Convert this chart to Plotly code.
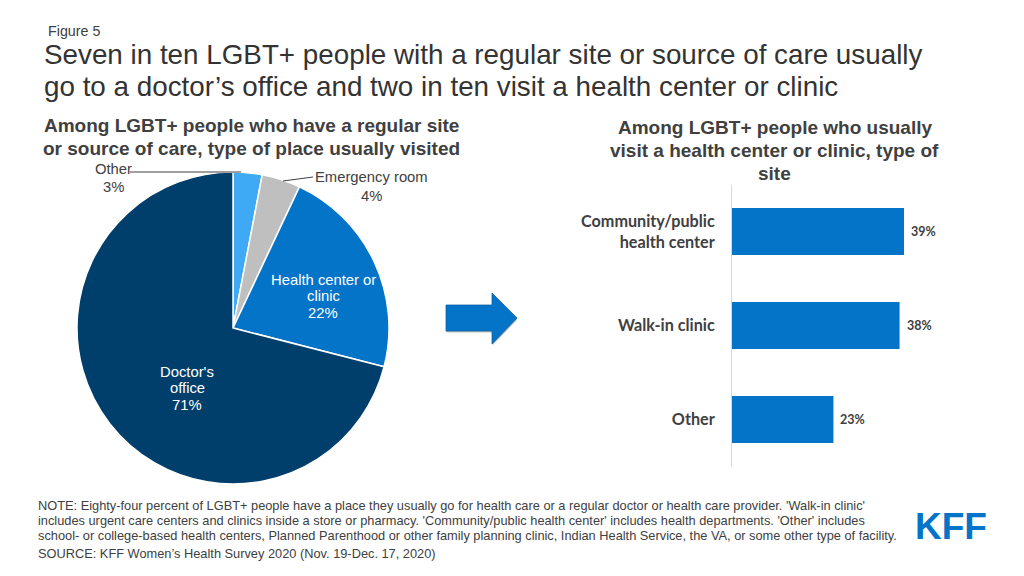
import plotly.graph_objects as go

# page has an 8px body margin, so the figure sits at (8, 8) in the 1024x576 window
W, H = 1008, 560
OFFSET = 8

# --- Data ---
PIE_LABELS = ["Other", "Emergency room", "Health center or clinic", "Doctor's office"]
PIE_VALUES = [3, 4, 22, 71]
PIE_COLORS = ["#3fa9f5", "#bfbfbf", "#0474c8", "#003f6b"]

SITE_LABELS = ["Community/public<br>health center", "Walk-in clinic", "Other"]
SITE_VALUES = [39, 38, 23]
SITE_TEXT = ["39%", "38%", "23%"]

TITLE_LINES = ["Seven in ten LGBT+ people with a regular site or source of care usually",
               "go to a doctor’s office and two in ten visit a health center or clinic"]
LEFT_HEAD = ["Among LGBT+ people who have a regular site",
             "or source of care, type of place usually visited"]
RIGHT_HEAD = ["Among LGBT+ people who usually",
              "visit a health center or clinic, type of",
              "site"]
NOTE_LINES = ["NOTE: Eighty-four percent of LGBT+ people have a place they usually go for health care or a regular doctor or health care provider. 'Walk-in clinic'",
              "includes urgent care centers and clinics inside a store or pharmacy. 'Community/public health center' includes health departments. 'Other' includes",
              "school- or college-based health centers, Planned Parenthood or other family planning clinic, Indian Health Service, the VA, or some other type of facility.",
              "SOURCE: KFF Women’s Health Survey 2020 (Nov. 19-Dec. 17, 2020)"]

SANS = "Liberation Sans"
DARK = "#404040"
BLUE = "#0474c8"


def px(x):
    return (x - OFFSET) / W


def py(y):
    return 1 - (y - OFFSET) / H


def label(x, y, text, size, color=DARK, bold=False, xanchor="center", family=SANS):
    if bold:
        text = f"<b>{text}</b>"
    return dict(x=px(x), y=py(y), xref="paper", yref="paper", text=text, showarrow=False,
                xanchor=xanchor, yanchor="middle", align="center",
                font=dict(family=family, size=size, color=color))


def block(x, ys, lines, size, **kw):
    return [label(x, y, t, size, **kw) for y, t in zip(ys, lines)]


def arrow_path(dx=0, dy=0):
    pts = [(446, 305), (492, 305), (492, 293), (517, 318), (492, 344), (492, 331), (446, 331)]
    return "M " + " L ".join(f"{px(x + dx)} {py(y + dy)}" for x, y in pts) + " Z"


fig = go.Figure()

fig.add_trace(go.Pie(
    labels=PIE_LABELS, values=PIE_VALUES, sort=False, direction="clockwise", rotation=0,
    marker=dict(colors=PIE_COLORS, line=dict(color="white", width=1.5)),
    textinfo="none", hoverinfo="label+percent", showlegend=False,
    domain=dict(x=[px(77), px(389)], y=[py(484), py(172)]),
))

fig.add_trace(go.Bar(
    x=SITE_VALUES, y=SITE_LABELS, orientation="h", width=0.5,
    marker=dict(color=BLUE, line=dict(width=0)), showlegend=False,
))

fig.update_xaxes(domain=[px(732), px(952)], range=[0, 220 / 4.41], visible=False)
fig.update_yaxes(
    domain=[py(466.5), py(184.5)], range=[2.5, -0.5], categoryorder="array", categoryarray=SITE_LABELS,
    showgrid=False, zeroline=False, showline=True, linecolor="#d9d9d9", linewidth=1, ticks="",
    ticklabelstandoff=13, tickfont=dict(family="Lato", size=16.2, color=DARK, weight="bold"),
)

annotations = [label(46, 31, "Figure 5", 14.3, xanchor="left")]
annotations += block(42, [54, 87], TITLE_LINES, 27.8, color="#333333", xanchor="left")
annotations += block(251.5, [125, 148], LEFT_HEAD, 19, bold=True)
annotations += block(774.5, [127, 150, 173], RIGHT_HEAD, 19, bold=True)
annotations += block(113, [169, 187], ["Other", "3%"], 14.8)
annotations += block(371, [177, 196], ["Emergency room", "4%"], 14.8)
annotations += block(323, [280, 296, 313], ["Health center or", "clinic", "22%"], 14.8, color="white")
annotations += block(187, [372, 388, 405], ["Doctor's", "office", "71%"], 14.8, color="white")
annotations += block(36, [505, 520, 535, 553], NOTE_LINES, 12.8, xanchor="left")
annotations.append(label(950.5, 526, "<b>KFF</b>", 37, color=BLUE))
for cat, val, txt in zip(SITE_LABELS, SITE_VALUES, SITE_TEXT):
    annotations.append(dict(x=val, y=cat, xref="x", yref="y", text=f"<b>{txt}</b>", showarrow=False,
                            xanchor="left", xshift=5, font=dict(family="Lato", size=12.5, color=DARK)))
fig.update_layout(annotations=annotations)

fig.update_layout(shapes=[
    # leader lines
    dict(type="line", xref="paper", yref="paper", x0=px(130), y0=py(172), x1=px(241), y1=py(172),
         line=dict(color="#404040", width=1)),
    dict(type="line", xref="paper", yref="paper", x0=px(283), y0=py(181), x1=px(313), y1=py(177),
         line=dict(color="#404040", width=1)),
    # arrow between the panels, with its soft shadow underneath
    dict(type="path", xref="paper", yref="paper", fillcolor="#c4c4c4", line=dict(width=0), path=arrow_path(0.5, 1.5)),
    dict(type="path", xref="paper", yref="paper", fillcolor=BLUE, line=dict(color="#0a5f9e", width=0.75), path=arrow_path()),
])

fig.update_layout(width=W, height=H, margin=dict(l=0, r=0, t=0, b=0), autosize=False,
                  paper_bgcolor="white", plot_bgcolor="white")

fig.write_html("out.html")
